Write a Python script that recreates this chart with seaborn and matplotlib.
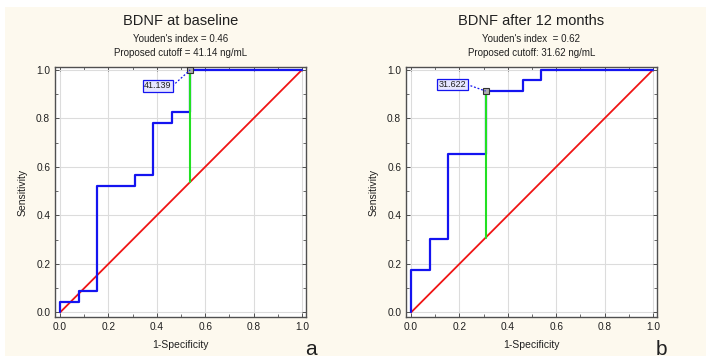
import numpy as np
import pandas as pd
import matplotlib.pyplot as plt
import matplotlib.patches as mpatches
from matplotlib.ticker import MultipleLocator
import seaborn as sns

sns.set_theme(style="white")
plt.rcParams["font.family"] = ["Liberation Sans", "DejaVu Sans"]

# ── colours ─────────────────────────────────────────────────────────
CREAM = "#fdf9ee"
BLUE = "#1414f0"
RED = "#f01414"
GREEN = "#22e022"
FRAME = "#505050"

# ── data (1-specificity, sensitivity) ───────────────────────────────
base_fpr = [0.0, 0.0, 0.077, 0.077, 0.154, 0.154, 0.308, 0.308, 0.385, 0.385,
            0.462, 0.462, 0.538, 0.538, 1.0]
base_tpr = [0.0, 0.043, 0.043, 0.087, 0.087, 0.522, 0.522, 0.565, 0.565, 0.783,
            0.783, 0.826, 0.826, 1.0, 1.0]
m12_fpr = [0.0, 0.0, 0.077, 0.077, 0.154, 0.154, 0.308, 0.308, 0.462, 0.462,
           0.538, 0.538, 1.0]
m12_tpr = [0.0, 0.174, 0.174, 0.304, 0.304, 0.652, 0.652, 0.913, 0.913, 0.957,
           0.957, 1.0, 1.0]

titles = ["BDNF at baseline", "BDNF after 12 months"]
subtitles = ["Youden's index = 0.46\nProposed cutoff = 41.14 ng/mL",
             "Youden's index  = 0.62\nProposed cutoff: 31.62 ng/mL"]
cutoff_pts = [(0.538, 1.0), (0.308, 0.913)]
cutoff_labels = ["41.139", "31.622"]
label_pos = [(0.405, 0.934), (0.171, 0.94)]
panel_letters = ["a", "b"]

curves = [(base_fpr, base_tpr), (m12_fpr, m12_tpr)]

# ── figure ──────────────────────────────────────────────────────────
fig = plt.figure(figsize=(7.12, 3.61), dpi=100)
fig.patch.set_facecolor("white")
fig.add_artist(mpatches.Rectangle((5 / 712, 5 / 361), 701 / 712, 349 / 361,
                                  transform=fig.transFigure, facecolor=CREAM,
                                  edgecolor="none", zorder=-10))

ax_lefts = [55 / 712, 406 / 712]
for i, left in enumerate(ax_lefts):
    ax = fig.add_axes([left, 44 / 361, 251 / 712, 250 / 361])
    ax.set_facecolor("white")
    fpr, tpr = curves[i]
    df = pd.DataFrame({"fpr": fpr, "tpr": tpr})
    ref = pd.DataFrame({"fpr": [0.0, 1.0], "tpr": [0.0, 1.0]})

    sns.lineplot(data=ref, x="fpr", y="tpr", ax=ax, color=RED, lw=1.3,
                 sort=False, estimator=None, zorder=3)
    sns.lineplot(data=df, x="fpr", y="tpr", ax=ax, color=BLUE, lw=1.6,
                 sort=False, estimator=None, zorder=4)
    cx, cy = cutoff_pts[i]
    ax.plot([cx, cx], [cx, cy], color=GREEN, lw=1.5, zorder=5)
    ax.plot([cx], [cy], marker="s", ms=4, mfc="#b0b0b0", mec="#303030",
            mew=0.8, zorder=6)

    lx, ly = label_pos[i]
    ax.plot([lx + 0.06, cx], [ly, cy], ls=(0, (1.5, 1.5)), color=BLUE,
            lw=0.9, zorder=6)
    ax.text(lx, ly, cutoff_labels[i], fontsize=6.5, ha="center", va="center",
            color="#202020", zorder=7,
            bbox=dict(boxstyle="square,pad=0.15", facecolor="#e6e6ff",
                      edgecolor=BLUE, lw=0.9))

    ax.set_xlim(-0.021, 1.017)
    ax.set_ylim(-0.019, 1.012)
    ax.xaxis.set_major_locator(MultipleLocator(0.2))
    ax.yaxis.set_major_locator(MultipleLocator(0.2))
    ax.xaxis.set_minor_locator(MultipleLocator(0.1))
    ax.yaxis.set_minor_locator(MultipleLocator(0.1))
    ax.grid(True, which="major", color="#dcdcdc", lw=0.8)
    ax.tick_params(which="both", direction="in", top=True, right=True,
                   bottom=True, left=True, color=FRAME, labelsize=7.3,
                   labelcolor="#202020")
    ax.tick_params(which="major", length=3, width=0.7)
    ax.tick_params(which="minor", length=2, width=0.6)
    ax.xaxis.set_major_formatter(plt.FormatStrFormatter("%.1f"))
    ax.yaxis.set_major_formatter(plt.FormatStrFormatter("%.1f"))
    for sp in ax.spines.values():
        sp.set_color(FRAME)
        sp.set_linewidth(1.0)

    ax.set_xlabel("1-Specificity", fontsize=7.5, color="#202020", labelpad=6)
    ax.set_ylabel("Sensitivity", fontsize=7.5, color="#202020", labelpad=6)

    cx_fig = left + 125.5 / 712
    fig.text(cx_fig, 1 - 21 / 361, titles[i], fontsize=10.5, ha="center",
             va="center", color="#202020")
    fig.text(cx_fig, 1 - 46 / 361, subtitles[i], fontsize=7, ha="center",
             va="center", color="#202020", linespacing=1.6)
    fig.text((left * 712 + 250) / 712, 1 - 355 / 361, panel_letters[i],
             fontsize=15, ha="left", va="baseline", color="#202020")

fig.savefig("out.png", dpi=100, facecolor=fig.get_facecolor())
plt.close(fig)
